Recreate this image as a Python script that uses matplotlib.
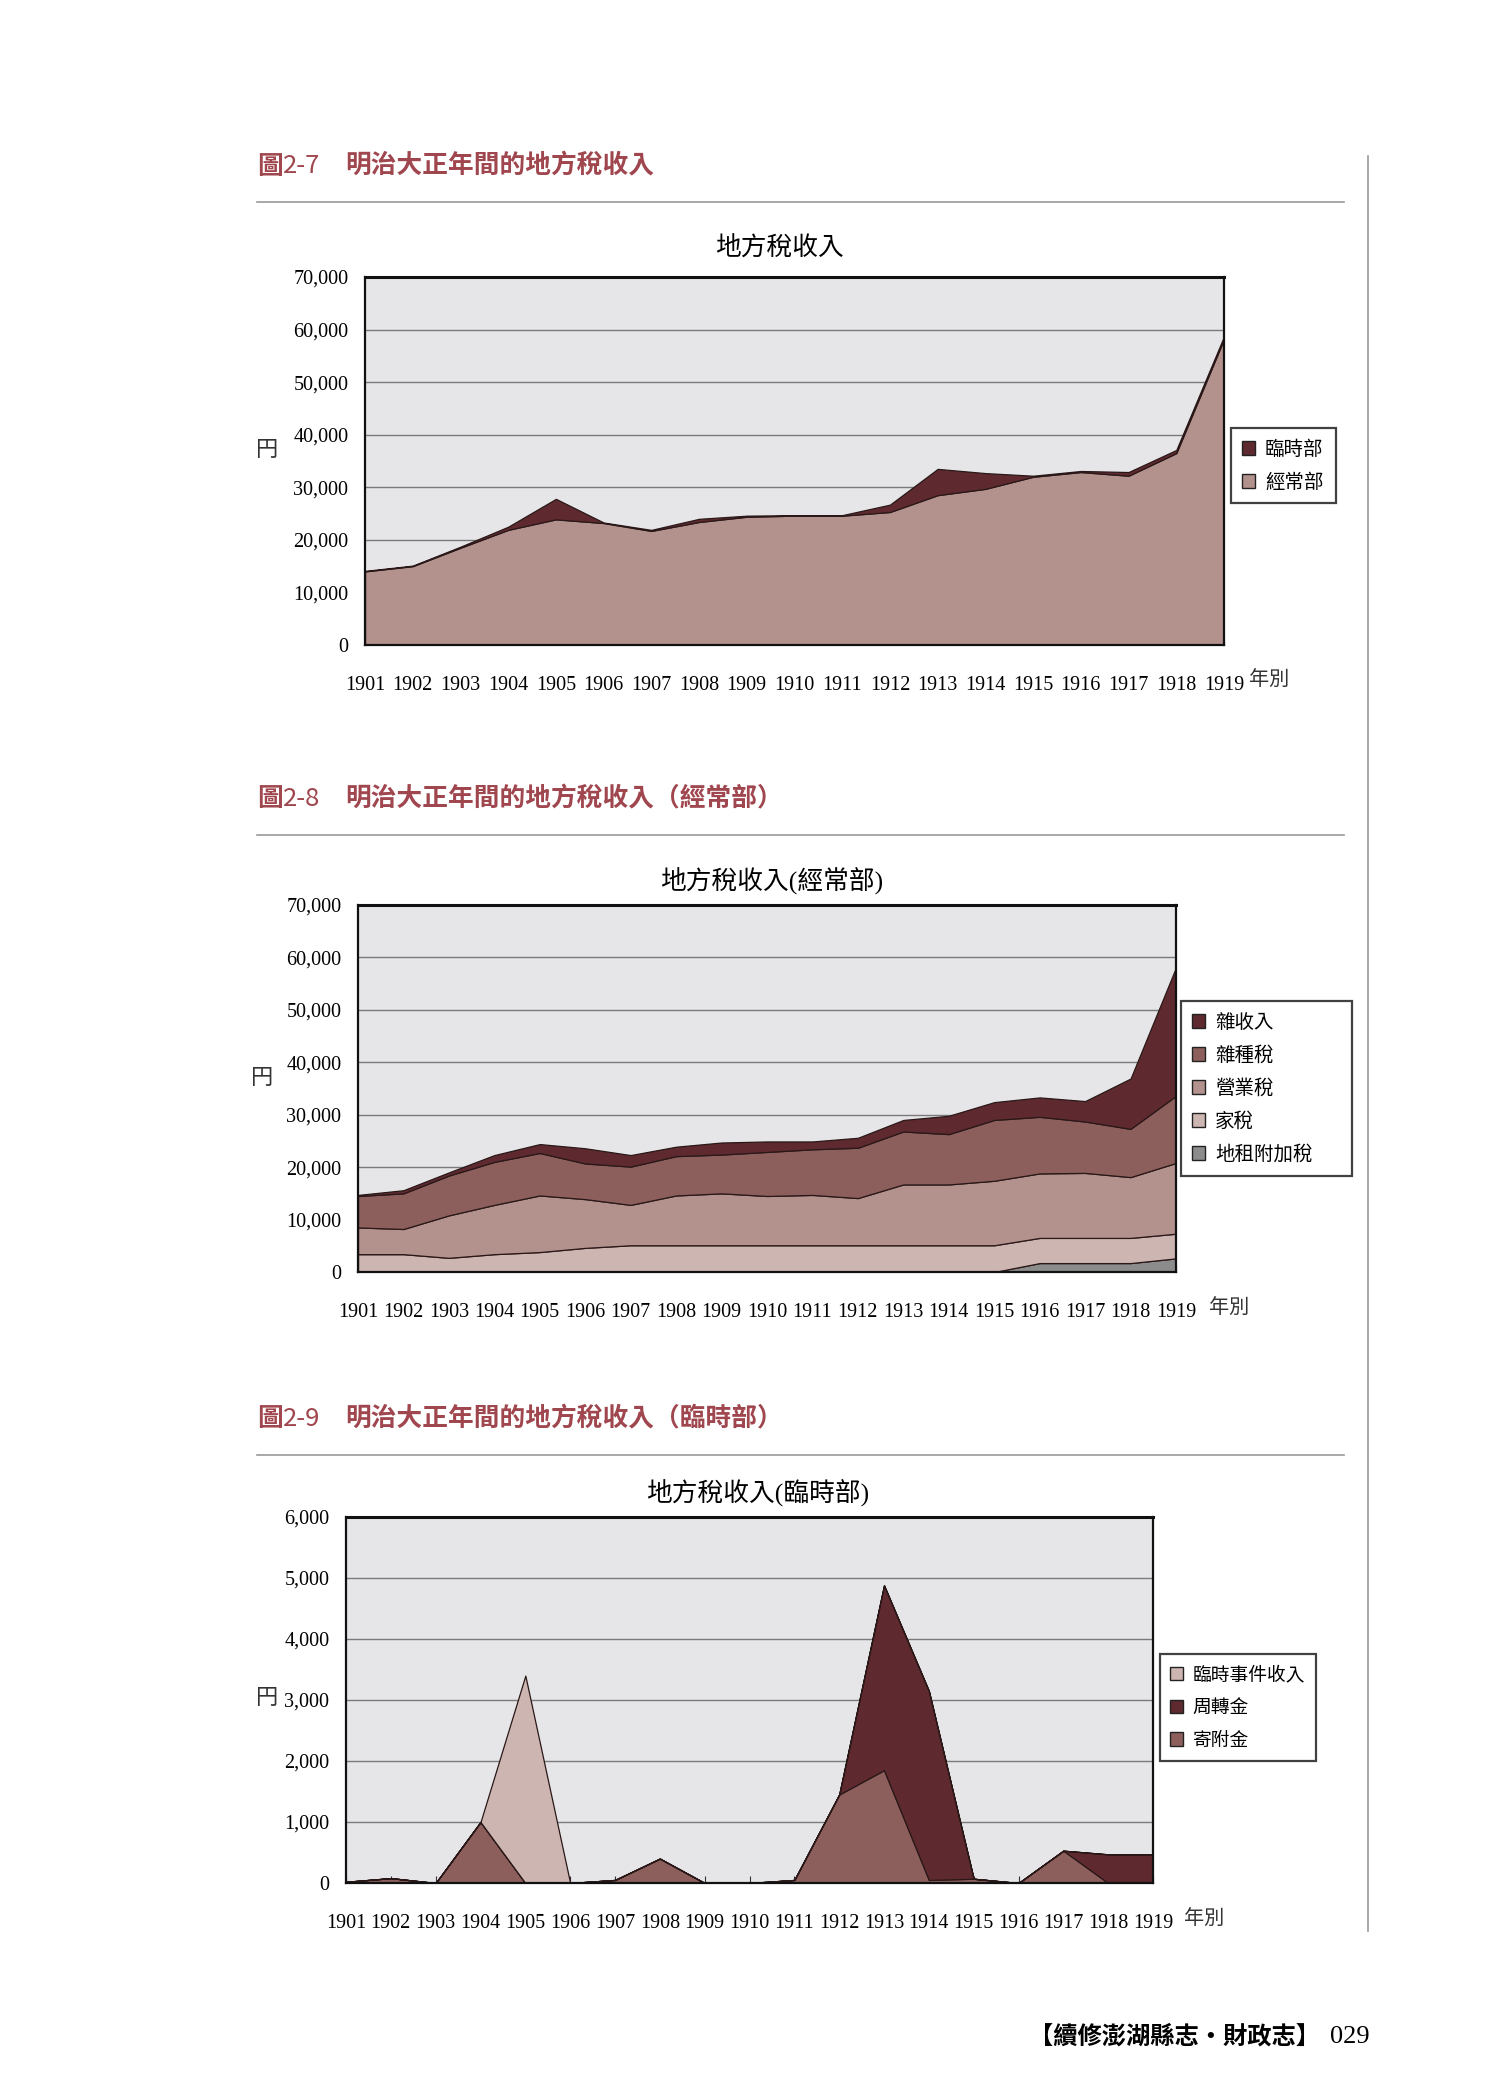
import numpy as np
import matplotlib
matplotlib.use('Agg')
import matplotlib.pyplot as plt
from matplotlib.patches import Patch
from matplotlib.ticker import FuncFormatter, MultipleLocator

plt.rcParams['font.family'] = ['Liberation Serif', 'Noto Sans CJK TC', 'DejaVu Sans']

W, H = 1500, 2094
years = list(range(1901, 1920))

# 圖2-7 (円)
jingchang = [14000, 15000, 18500, 21900, 23900, 23200, 21700, 23400, 24400, 24600,
             24600, 25300, 28500, 29700, 32000, 32900, 32200, 36500, 58200]
linshi = [100, 100, 200, 600, 3900, 100, 200, 600, 200, 100,
          100, 1400, 5000, 3000, 200, 200, 700, 600, 500]

# 圖2-8 經常部 (円)
dizu = [0, 0, 0, 0, 0, 0, 0, 0, 0, 0, 0, 0, 0, 0, 0, 1700, 1700, 1700, 2600]
jiashui = [3400, 3400, 2700, 3400, 3800, 4600, 5100, 5100, 5100, 5100,
           5100, 5100, 5100, 5100, 5100, 4800, 4800, 4800, 4700]
yingye = [5100, 4800, 8100, 9400, 10800, 9300, 7700, 9500, 9900, 9400,
          9600, 9000, 11600, 11600, 12300, 12300, 12400, 11600, 13500]
zazhong = [6000, 6800, 7600, 8200, 8100, 6800, 7300, 7500, 7400, 8400,
           8700, 9600, 10100, 9600, 11600, 10800, 9800, 9200, 12800]
zashou = [200, 600, 600, 1300, 1700, 2900, 2200, 1800, 2300, 2000,
          1500, 1900, 2200, 3500, 3400, 3700, 3900, 9600, 24500]

# 圖2-9 臨時部 (円)
jifu = [20, 80, 0, 1000, 0, 0, 50, 400, 0, 0,
        50, 1450, 1850, 50, 70, 0, 530, 0, 0]
zhouzhuan = [0, 0, 0, 0, 0, 0, 0, 0, 0, 0,
             0, 0, 3030, 3100, 0, 0, 0, 470, 470]
shijian = [0, 0, 0, 0, 3400, 0, 0, 0, 0, 0,
           0, 0, 0, 0, 0, 0, 0, 0, 0]

c_dark = '#5e2a2f'
c_mid = '#8c5f5c'
c_main = '#b3918d'
c_light = '#cdb5b1'
c_grey = '#8c8c8c'
head_col = '#a0464e'
cjk = ['Noto Sans CJK TC', 'DejaVu Sans']


def fx(x):
    return x / W


def fy(y):
    return 1 - y / H


fig = plt.figure(figsize=(15, 20.94), dpi=100)
fig.patch.set_facecolor('white')


def heading(num, text, y, line_y):
    fig.text(fx(257), fy(y), '圖', color=head_col, fontsize=18.5, fontweight='bold',
             family=cjk, va='center', ha='left')
    fig.text(fx(283), fy(y), num, color=head_col, fontsize=18.5, fontweight='normal',
             family=cjk, va='center', ha='left')
    fig.text(fx(345), fy(y), text, color=head_col, fontsize=18.5, fontweight='bold',
             family=cjk, va='center', ha='left')
    fig.add_artist(plt.Line2D([fx(257), fx(1344)], [fy(line_y), fy(line_y)],
                              color='#9a9a9a', lw=1.2))


def make_axes(box, ymax, step, title, title_xy, ylab_xy, nianbie_x, xl_y):
    l, t, r, b = box
    ax = fig.add_axes([fx(l), fy(b), fx(r) - fx(l), fy(t) - fy(b)])
    ax.set_facecolor('#e6e6e8')
    ax.set_xlim(1901, 1919)
    ax.set_ylim(0, ymax)
    ax.yaxis.set_major_locator(MultipleLocator(step))
    ax.yaxis.set_major_formatter(FuncFormatter(lambda v, p: '{:,.0f}'.format(v)))
    ax.set_xticks(years)
    ax.set_xticklabels([str(y) for y in years])
    ax.grid(axis='y', color='#7a7a7a', lw=1.0)
    ax.set_axisbelow(True)
    ax.tick_params(axis='x', direction='in', length=5, pad=22, labelsize=14.5, color='#333333')
    ax.tick_params(axis='y', length=0, pad=12, labelsize=14.5)
    for s in ax.spines.values():
        s.set_linewidth(1.6)
        s.set_color('#111111')
    ax.spines['top'].set_linewidth(2.2)
    fig.text(fx(title_xy[0]), fy(title_xy[1]), title, fontsize=18.5, ha='center', va='center')
    fig.text(fx(ylab_xy[0]), fy(ylab_xy[1]), '円', fontsize=16, family=cjk,
             ha='center', va='center', color='#333333')
    fig.text(fx(nianbie_x), fy(xl_y), '年別', fontsize=14.5, family=cjk,
             ha='left', va='center', color='#333333')
    return ax


def legend(labels, colors, box, size=14, expand=True):
    l, t, r, b = box
    handles = [Patch(facecolor=c, edgecolor='#222222', lw=1.0) for c in colors]
    if expand:
        anchor = (fx(l), fy(b), fx(r) - fx(l), fy(t) - fy(b))
        mode = 'expand'
    else:
        anchor = (fx(l), fy(t))
        mode = None
    lg = fig.legend(handles, labels, loc='upper left', bbox_to_anchor=anchor,
                    mode=mode, frameon=True, fancybox=False, edgecolor='#111111',
                    handlelength=0.7, handleheight=0.7, handletextpad=0.5,
                    labelspacing=0.62, borderpad=0.55, borderaxespad=0,
                    prop={'family': cjk, 'size': size})
    lg.get_frame().set_linewidth(1.6)


# 圖2-7
heading('2-7', '明治大正年間的地方稅收入', 166, 202)
ax1 = make_axes((365, 277, 1224, 645), 70000, 10000, '地方稅收入', (779, 249),
                (267, 449), 1249, 680)
ax1.stackplot(years, jingchang, linshi, colors=[c_main, c_dark],
              edgecolor='#2a1818', lw=0.9)
legend(['臨時部', '經常部'], [c_dark, c_main], (1231, 428, 1336, 493))

# 圖2-8
heading('2-8', '明治大正年間的地方稅收入（經常部）', 799, 835)
ax2 = make_axes((358, 905, 1176, 1272), 70000, 10000, '地方稅收入(經常部)', (772, 881),
                (262, 1077), 1209, 1308)
ax2.stackplot(years, dizu, jiashui, yingye, zazhong, zashou,
              colors=[c_grey, c_light, c_main, c_mid, c_dark],
              edgecolor='#2a1818', lw=0.9)
legend(['雜收入', '雜種稅', '營業稅', '家稅', '地租附加稅'],
       [c_dark, c_mid, c_main, c_light, c_grey], (1181, 1001, 1352, 1177))

# 圖2-9
heading('2-9', '明治大正年間的地方稅收入（臨時部）', 1419, 1455)
ax3 = make_axes((346, 1517, 1153, 1883), 6000, 1000, '地方稅收入(臨時部)', (758, 1493),
                (267, 1697), 1184, 1919)
ax3.stackplot(years, jifu, zhouzhuan, shijian, colors=[c_mid, c_dark, c_light],
              edgecolor='#2a1818', lw=0.9)
legend(['臨時事件收入', '周轉金', '寄附金'], [c_light, c_dark, c_mid],
       (1160, 1654, 1304, 1751), size=13.5, expand=False)

# page frame
fig.add_artist(plt.Line2D([fx(1368), fx(1368)], [fy(156), fy(1931)], color='#9a9a9a', lw=1.2))
fig.text(fx(1029), fy(2037), '【續修澎湖縣志・財政志】', fontsize=17.5, fontweight='bold',
         family=cjk, ha='left', va='center')
fig.text(fx(1370), fy(2037), '029', fontsize=19, ha='right', va='center')

fig.savefig('out.png', dpi=100)
